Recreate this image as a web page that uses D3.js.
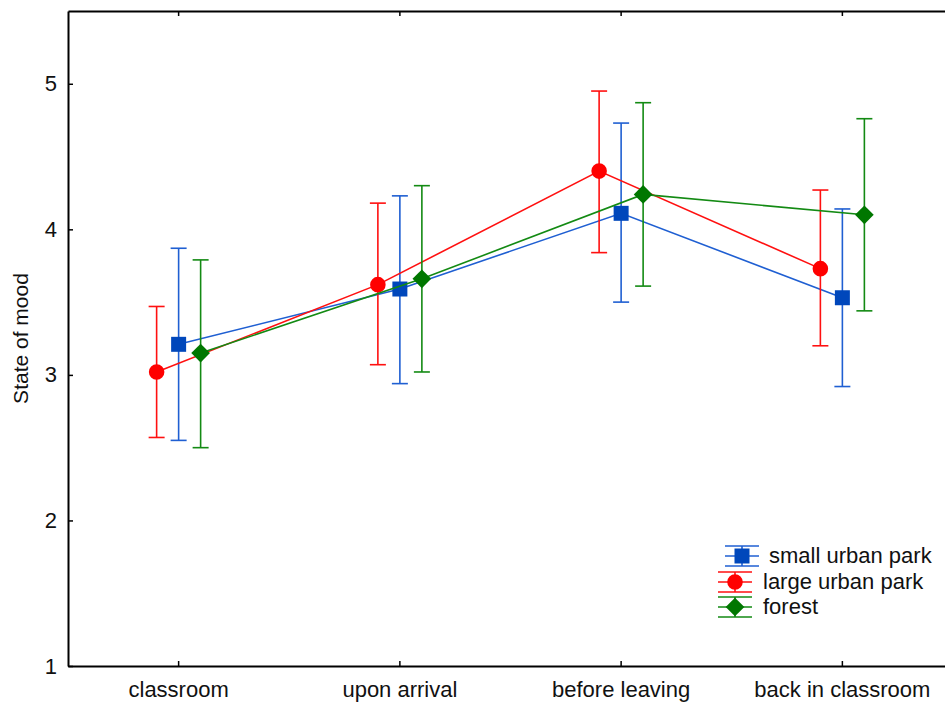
<!DOCTYPE html>
<html>
<head>
<meta charset="utf-8">
<script src="https://cdn.jsdelivr.net/npm/d3@7"></script>
<style>
  body { margin: 0; background: #fff; }
  text { font-family: "Liberation Sans", Arial, sans-serif; }
</style>
</head>
<body>
<div id="chart"></div>
<script>
// data
const categories = ["classroom", "upon arrival", "before leaving", "back in classroom"];
const yTicks = [1, 2, 3, 4, 5];

const smallMean = [3.21, 3.59, 4.11, 3.53];
const smallLow  = [2.55, 2.94, 3.50, 2.92];
const smallHigh = [3.87, 4.23, 4.73, 4.14];

const largeMean = [3.02, 3.62, 4.40, 3.73];
const largeLow  = [2.57, 3.07, 3.84, 3.20];
const largeHigh = [3.47, 4.18, 4.95, 4.27];

const forestMean = [3.15, 3.66, 4.24, 4.10];
const forestLow  = [2.50, 3.02, 3.61, 3.44];
const forestHigh = [3.79, 4.30, 4.87, 4.76];

const seriesNames = ["small urban park", "large urban park", "forest"];

function draw() {
  const width = 945, height = 706;
  const margin = {top: 11, left: 68, bottom: 40};
  const plotH = height - margin.top - margin.bottom;   // 655
  const plotW = 885;                                   // runs past the right edge

  const svg = d3.select("#chart")
    .append("svg")
      .attr("width", width)
      .attr("height", height);

  const x = d3.scaleBand()
    .domain(categories)
    .range([margin.left, margin.left + plotW]);

  const y = d3.scaleLinear()
    .domain([1, 5.5])
    .range([margin.top + plotH, margin.top]);

  const series = [
    {name: seriesNames[0], mean: smallMean, lo: smallLow, hi: smallHigh, color: "#1f5fd2", fill: "#0047bb", shape: "square", dx: 0},
    {name: seriesNames[1], mean: largeMean, lo: largeLow, hi: largeHigh, color: "#ff1010", fill: "#ff0000", shape: "circle", dx: -22},
    {name: seriesNames[2], mean: forestMean, lo: forestLow, hi: forestHigh, color: "#138a13", fill: "#007700", shape: "diamond", dx: 22}
  ];

  const cx = (s, i) => x(categories[i]) + x.bandwidth() / 2 + s.dx;

  // square diamond (equal width and height)
  const squareDiamond = {
    draw(context, size) {
      const r = Math.sqrt(size / 2);
      context.moveTo(0, -r);
      context.lineTo(r, 0);
      context.lineTo(0, r);
      context.lineTo(-r, 0);
      context.closePath();
    }
  };

  const symbolFor = {
    square: d3.symbol().type(d3.symbolSquare).size(225),
    circle: d3.symbol().type(d3.symbolCircle).size(190),
    diamond: d3.symbol().type(squareDiamond).size(175)
  };

  // frame: bottom axis
  const xAxis = d3.axisBottom(x).tickSizeInner(-5).tickSizeOuter(0).tickPadding(15);
  const gx = svg.append("g")
    .attr("transform", `translate(0, ${margin.top + plotH})`)
    .call(xAxis);
  gx.select(".domain").attr("stroke", "#000").attr("stroke-width", 2);
  gx.selectAll(".tick line").attr("stroke", "#000").attr("stroke-width", 1.5);
  gx.selectAll(".tick text")
    .attr("fill", "#111")
    .style("font-size", "22px");

  // top axis
  const gt = svg.append("g")
    .attr("transform", `translate(0, ${margin.top})`)
    .call(d3.axisTop(x).tickSizeInner(-5).tickSizeOuter(0).tickFormat(""));
  gt.select(".domain").attr("stroke", "#000").attr("stroke-width", 2);
  gt.selectAll(".tick line").attr("stroke", "#000").attr("stroke-width", 1.5);

  // left axis
  const gy = svg.append("g")
    .attr("transform", `translate(${margin.left}, 0)`)
    .call(d3.axisLeft(y).tickValues(yTicks).tickSizeInner(-5).tickSizeOuter(0).tickPadding(11).tickFormat(d3.format("d")));
  gy.select(".domain").attr("stroke", "#000").attr("stroke-width", 2);
  gy.selectAll(".tick line").attr("stroke", "#000").attr("stroke-width", 1.5);
  gy.selectAll(".tick text").attr("fill", "#111").style("font-size", "22px");

  // y axis title
  svg.append("text")
    .attr("transform", `translate(28, ${margin.top + plotH / 2}) rotate(-90)`)
    .style("text-anchor", "middle")
    .style("font-size", "21px")
    .attr("fill", "#111")
    .text("State of mood");

  const cap = 8;

  series.forEach(s => {
    const g = svg.append("g").attr("class", "series");

    const line = d3.line()
      .x((d, i) => cx(s, i))
      .y(d => y(d));
    g.append("path")
      .attr("d", line(s.mean))
      .attr("fill", "none")
      .attr("stroke", s.color)
      .attr("stroke-width", 1.6);

    const bars = g.selectAll("g.err")
      .data(s.mean.map((m, i) => ({i: i, lo: s.lo[i], hi: s.hi[i]})))
      .join("g")
        .attr("class", "err")
        .attr("stroke", s.color)
        .attr("stroke-width", 1.6);
    bars.append("line")
      .attr("x1", d => cx(s, d.i)).attr("x2", d => cx(s, d.i))
      .attr("y1", d => y(d.lo)).attr("y2", d => y(d.hi));
    bars.append("line")
      .attr("x1", d => cx(s, d.i) - cap).attr("x2", d => cx(s, d.i) + cap)
      .attr("y1", d => y(d.hi)).attr("y2", d => y(d.hi));
    bars.append("line")
      .attr("x1", d => cx(s, d.i) - cap).attr("x2", d => cx(s, d.i) + cap)
      .attr("y1", d => y(d.lo)).attr("y2", d => y(d.lo));

    g.selectAll("path.pt")
      .data(s.mean)
      .join("path")
        .attr("class", "pt")
        .attr("d", symbolFor[s.shape])
        .attr("transform", (d, i) => `translate(${cx(s, i)}, ${y(d)})`)
        .attr("fill", s.fill);
  });

  // legend
  const legendX = [742, 735, 735];
  const legendTextX = [769, 763, 763];
  const legendY = [556, 582, 607];
  series.forEach((s, k) => {
    const lg = svg.append("g")
      .attr("transform", `translate(${legendX[k]}, ${legendY[k]})`);
    lg.append("line").attr("x1", 0).attr("x2", 0).attr("y1", -10).attr("y2", 10)
      .attr("stroke", s.color).attr("stroke-width", 1.6);
    [-10, 0, 10].forEach(yy => {
      lg.append("line").attr("x1", -17).attr("x2", 17).attr("y1", yy).attr("y2", yy)
        .attr("stroke", s.color).attr("stroke-width", 1.6);
    });
    lg.append("path")
      .attr("d", symbolFor[s.shape])
      .attr("fill", s.fill);
    svg.append("text")
      .attr("x", legendTextX[k])
      .attr("y", legendY[k] + 7)
      .style("font-size", "22px")
      .attr("fill", "#111")
      .text(s.name);
  });
}

draw();
</script>
</body>
</html>
